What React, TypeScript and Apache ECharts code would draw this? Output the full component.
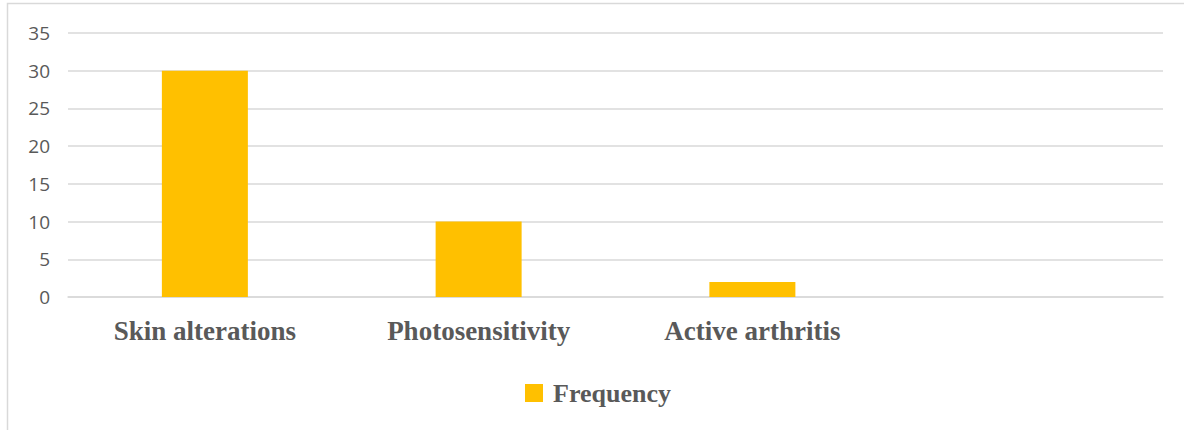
import React, { useEffect, useRef } from "react";
import * as echarts from "echarts";

const categories = ["Skin alterations", "Photosensitivity", "Active arthritis", ""];
const frequency = [30, 10, 2, null];
const seriesName = "Frequency";

export default function App() {
  const ref = useRef<HTMLDivElement>(null);
  useEffect(() => {
    const chart = echarts.init(ref.current!, null, { renderer: "svg" });
    chart.setOption({
      animation: false,
      backgroundColor: "#ffffff",
      graphic: [
        {
          type: "rect",
          shape: { x: 7.5, y: 3.5, width: 1300, height: 600 },
          style: { fill: "none", stroke: "#d9d9d9", lineWidth: 1.5 },
          silent: true,
        },
      ],
      grid: { left: 68, right: 21, top: 33, bottom: 133, containLabel: false },
      legend: {
        data: [seriesName],
        bottom: 19,
        left: 520,
        icon: "rect",
        itemWidth: 18,
        itemHeight: 18,
        itemGap: 10,
        textStyle: {
          fontFamily: "Liberation Serif",
          fontWeight: "bold",
          fontSize: 26,
          color: "#595959",
          padding: [0, 0, 0, 5],
        },
      },
      xAxis: {
        type: "category",
        data: categories,
        axisLine: { show: true, lineStyle: { color: "#d9d9d9", width: 1.5 } },
        axisTick: { show: false },
        axisLabel: {
          margin: 20,
          fontFamily: "Liberation Serif",
          fontWeight: "bold",
          fontSize: 27,
          color: "#595959",
        },
      },
      yAxis: {
        type: "value",
        min: 0,
        max: 35,
        interval: 5,
        axisLine: { show: false },
        axisTick: { show: false },
        splitLine: { lineStyle: { color: "#d9d9d9", width: 1.5 } },
        axisLabel: {
          margin: 18,
          fontFamily: "Open Sans",
          fontSize: 19,
          color: "#595959",
        },
      },
      series: [
        {
          name: seriesName,
          type: "bar",
          data: frequency,
          barWidth: 86,
          itemStyle: { color: "#FFC000" },
        },
      ],
    });
    return () => chart.dispose();
  }, []);
  return (
    <div
      ref={ref}
      style={{ position: "fixed", left: 0, top: 0, width: 1184, height: 430 }}
    />
  );
}
